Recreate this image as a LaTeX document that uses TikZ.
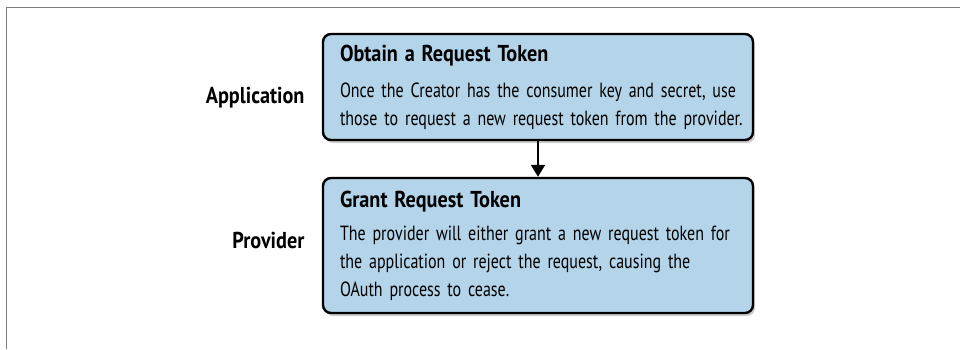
\documentclass[tikz,border=0pt]{standalone}
\usepackage{fontspec}
\setmainfont{PT Sans}[FakeStretch=0.78]
\newfontfamily\negrita{PT Sans}[FakeStretch=0.88]
\usetikzlibrary{arrows.meta,positioning,shadows}
\definecolor{boxblue}{RGB}{179,212,233}
\definecolor{framegray}{RGB}{125,125,125}
\hfuzz=20pt

\begin{document}
\begin{tikzpicture}[x=1pt,y=-1pt,
    paso/.style={draw=black, line width=2.4pt, fill=boxblue, rounded corners=8pt,
      text width=396pt, inner xsep=17pt, inner ysep=0pt, align=left,
      font=\fontsize{20.5}{28}\selectfont,
      drop shadow={shadow xshift=2pt, shadow yshift=-3pt, opacity=0.4}},
    actor/.style={anchor=east, font=\negrita\fontsize{23}{26}\selectfont\bfseries}]
    \useasboundingbox (0,0) rectangle (960,349);
    % Marco
    \draw[framegray, line width=1.5pt] (6.5,349) -- (6.5,7.5) -- (960,7.5);
    % Pasos
    \node[paso, minimum height=106pt] (obtain) at (538,87)
      {{\negrita\fontsize{23}{26}\selectfont\bfseries Obtain a Request Token}\\[8pt]
       \mbox{Once the Creator has the consumer key and secret, use}\\
       \mbox{those to request a new request token from the provider.}};
    \node[paso, minimum height=135pt] (grant) at (538,245.5)
      {{\negrita\fontsize{23}{26}\selectfont\bfseries Grant Request Token}\\[5pt]
       The provider will either grant a new request token for\\
       the application or reject the request, causing the\\
       OAuth process to cease.};
    % Actores
    \node[actor] (app) at (308,98) {Application};
    \node[actor] (prov) at (308,240) {Provider};
    % Flecha
    \draw[line width=2pt, -{Triangle[width=14pt,length=12pt]}] (obtain) -- (grant);
\end{tikzpicture}
\end{document}
